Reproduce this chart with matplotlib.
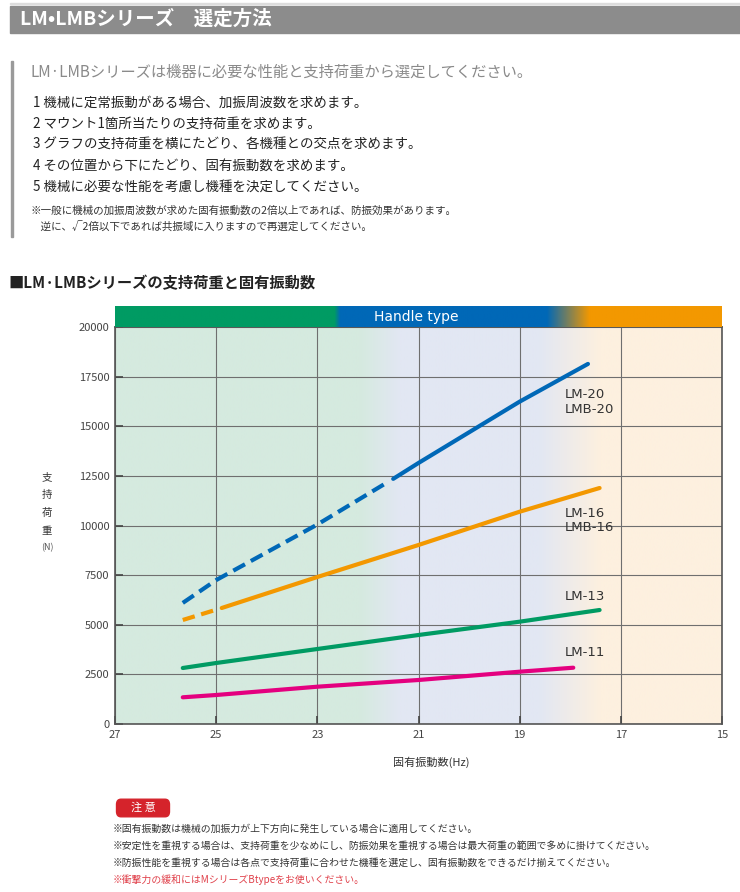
import matplotlib
matplotlib.use("Agg")
import matplotlib.pyplot as plt
import numpy as np
from matplotlib.patches import FancyBboxPatch, Rectangle

plt.rcParams['font.family'] = ['Noto Sans CJK JP', 'DejaVu Sans']

W, H = 740, 892

# ---- data ----
title = "LM•LMBシリーズ　選定方法"
subtitle = "LM·LMBシリーズは機器に必要な性能と支持荷重から選定してください。"
steps = [
    "1 機械に定常振動がある場合、加振周波数を求めます。",
    "2 マウント1箇所当たりの支持荷重を求めます。",
    "3 グラフの支持荷重を横にたどり、各機種との交点を求めます。",
    "4 その位置から下にたどり、固有振動数を求めます。",
    "5 機械に必要な性能を考慮し機種を決定してください。",
]
step_notes = [
    "※一般に機械の加振周波数が求めた固有振動数の2倍以上であれば、防振効果があります。",
    "　逆に、√2倍以下であれば共振域に入りますので再選定してください。",
]
chart_title = "■LM·LMBシリーズの支持荷重と固有振動数"
band_label = "Handle type"
x_ticks = [27, 25, 23, 21, 19, 17, 15]
y_ticks = [0, 2500, 5000, 7500, 10000, 12500, 15000, 17500, 20000]
x_label = "固有振動数(Hz)"
y_label_chars = ["支", "持", "荷", "重"]
y_unit = "(N)"

# LM-20 / LMB-20 (dashed part, solid part)
lm20_dash_hz = [25.66, 25.0, 23.0, 21.6]
lm20_dash_n = [6100, 7250, 10050, 12200]
lm20_hz = [21.5, 21.0, 19.0, 17.65]
lm20_n = [12350, 13150, 16240, 18140]
# LM-16 / LMB-16
lm16_dash_hz = [25.66, 25.06]
lm16_dash_n = [5240, 5710]
lm16_hz = [24.89, 23.0, 21.0, 19.0, 17.42]
lm16_n = [5844, 7405, 9018, 10695, 11889]
# LM-13
lm13_hz = [25.66, 25.0, 23.0, 21.0, 19.0, 17.42]
lm13_n = [2821, 3073, 3778, 4484, 5154, 5743]
# LM-11
lm11_hz = [25.66, 25.0, 23.0, 21.0, 19.0, 17.94]
lm11_n = [1345, 1461, 1879, 2217, 2635, 2836]

labels = ["LM-20\nLMB-20", "LM-16\nLMB-16", "LM-13", "LM-11"]
label_n = [16220, 10250, 6448, 3577]

cautions = [
    "※固有振動数は機械の加振力が上下方向に発生している場合に適用してください。",
    "※安定性を重視する場合は、支持荷重を少なめにし、防振効果を重視する場合は最大荷重の範囲で多めに掛けてください。",
    "※防振性能を重視する場合は各点で支持荷重に合わせた機種を選定し、固有振動数をできるだけ揃えてください。",
    "※衝撃力の緩和にはMシリーズBtypeをお使いください。",
]

BLUE = "#0068b7"
ORANGE = "#f39800"
GREEN = "#009b63"
PINK = "#e4007f"


def px(x, y):
    return x / W, 1 - y / H


def gradient(stops, n=800):
    xs = np.linspace(27, 15, n)
    pos = [s[0] for s in stops]
    cols = np.array([matplotlib.colors.to_rgb(s[1]) for s in stops])
    img = np.zeros((1, n, 3))
    for c in range(3):
        img[0, :, c] = np.interp(-xs, [-p for p in pos], cols[:, c])
    return img


fig = plt.figure(figsize=(W / 100, H / 100), dpi=100)

# ---- header ----
fig.patches.append(Rectangle(px(10, 33), 730 / W, 27 / H, transform=fig.transFigure,
                             color="#8c8c8c", zorder=0))
fig.patches.append(Rectangle(px(10, 4), 730 / W, 1 / H, transform=fig.transFigure,
                             color="#dddddd", zorder=0))
fig.text(*px(20, 19.5), title, color="white", fontsize=14, fontweight="bold", va="center")

fig.patches.append(Rectangle(px(11, 237), 1.5 / W, 176 / H, transform=fig.transFigure,
                             color="#9a9a9a", zorder=0))
fig.text(*px(30, 72), subtitle, color="#8a8a8a", fontsize=11, va="center")
for i, s in enumerate(steps):
    fig.text(*px(33, 103 + 21 * i), s, color="#222222", fontsize=9.7, va="center")
for i, s in enumerate(step_notes):
    fig.text(*px(30, 211 + 16 * i), s, color="#333333", fontsize=7.6, va="center")

fig.text(*px(8, 283), chart_title, color="#222222", fontsize=11, fontweight="bold", va="center")

# ---- chart ----
ax = fig.add_axes([115 / W, (H - 724) / H, 607 / W, 397 / H])
bg = gradient([(27, "#d5eadf"), (22.16, "#d5eadf"), (21.37, "#e2e7f3"),
               (18.6, "#e2e7f3"), (17.4, "#fdf0df"), (15, "#fdf0df")])
ax.imshow(bg, extent=[27, 15, 0, 20000], aspect="auto", zorder=0, interpolation="bilinear")
ax.set_xlim(27, 15)
ax.set_ylim(0, 20000)
ax.set_xticks(x_ticks)
ax.set_yticks(y_ticks)
ax.set_axisbelow(True)
ax.grid(color="#6f6f6f", lw=0.8)
ax.tick_params(direction="in", length=6, width=1.2, color="#444444",
               labelsize=8, labelcolor="#444444", pad=4)
for sp in ax.spines.values():
    sp.set_color("#555555")
    sp.set_linewidth(1.2)

lw = 3
ax.plot(lm20_dash_hz, lm20_dash_n, color=BLUE, lw=lw, dashes=(3.2, 1.6), zorder=3)
ax.plot(lm20_hz, lm20_n, color=BLUE, lw=lw, solid_capstyle="round", zorder=3)
ax.plot(lm16_dash_hz, lm16_dash_n, color=ORANGE, lw=lw, dashes=(3.0, 1.6), zorder=3)
ax.plot(lm16_hz, lm16_n, color=ORANGE, lw=lw, solid_capstyle="round", zorder=3)
ax.plot(lm13_hz, lm13_n, color=GREEN, lw=lw, solid_capstyle="round", zorder=3)
ax.plot(lm11_hz, lm11_n, color=PINK, lw=lw, solid_capstyle="round", zorder=3)

for lab, n in zip(labels, label_n):
    ax.text(18.11, n, lab, family="DejaVu Sans", fontsize=9.5, color="#333333",
            va="center", ha="left", linespacing=1.15, zorder=4)

# top band
band = fig.add_axes([115 / W, (H - 327) / H, 607 / W, 21 / H])
band_img = gradient([(27, GREEN), (22.66, GREEN), (22.55, BLUE), (18.46, BLUE),
                     (17.61, ORANGE), (15, ORANGE)])
band.imshow(band_img, extent=[27, 15, 0, 1], aspect="auto", interpolation="bilinear")
band.set_xlim(27, 15)
band.set_ylim(0, 1)
band.axis("off")
band.text(21.05, 0.5, band_label, color="white", fontsize=10, ha="center", va="center",
          family="DejaVu Sans")

# axis labels
for i, ch in enumerate(y_label_chars):
    fig.text(*px(47, 477 + 18 * i), ch, fontsize=7.5, color="#333333", ha="center", va="center")
fig.text(*px(47, 548), y_unit, fontsize=6.5, color="#555555", ha="center", va="center")
fig.text(*px(431, 762), x_label, fontsize=8, color="#333333", ha="center", va="center")

# ---- caution ----
fig.patches.append(FancyBboxPatch(px(118, 815), 50 / W, 14 / H,
                                  boxstyle="round,pad=0.002,rounding_size=0.006",
                                  transform=fig.transFigure, color="#d5232b", zorder=0))
fig.text(*px(143, 808), "注 意", color="white", fontsize=8, ha="center", va="center")
for i, s in enumerate(cautions):
    col = "#e0404a" if i == 3 else "#333333"
    fig.text(*px(113, 829 + 17 * i), s, color=col, fontsize=7.1, va="center")

fig.savefig("out.png", dpi=100)
